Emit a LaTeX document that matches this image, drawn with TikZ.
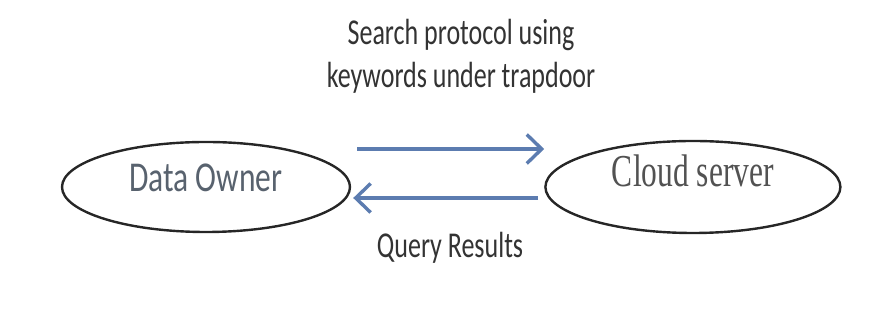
\documentclass[tikz,border=0pt]{standalone}
\usepackage{fontspec}
\setmainfont{Carlito}
\newfontfamily\serifface{Liberation Serif}
\usetikzlibrary{arrows.meta, shapes.geometric, positioning}
\newcommand{\tall}[2][1.4]{\scalebox{1}[#1]{#2}}

\begin{document}
\begin{tikzpicture}[x=1pt, y=1pt, thick,
    party node/.style={ellipse, draw=black!85, line width=2.4pt, inner sep=0pt},
    label text/.style={text=black!80, font=\fontsize{26}{30.7}\selectfont},
    flow/.style={draw={rgb,255:red,92;green,124;blue,176}, line width=3.4pt, -{Straight Barb[length=15pt,width=29pt]}}]
\useasboundingbox (0,0) rectangle (875,323);
\node[party node, minimum width=288pt, minimum height=90pt, text depth=18pt, text={rgb,255:red,88;green,98;blue,110}, font=\fontsize{31.5}{36}\selectfont] (owner) at (206,136) {\tall[1.35]{Data Owner}};
\node[party node, minimum width=295pt, minimum height=92pt, text depth=32pt, text=black!68, font=\serifface\fontsize{31.5}{36}\selectfont, right=193pt of owner] (cloud) {\tall[1.45]{Cloud server}};
\node[label text] (search) at (461,266) {\tall{\begin{tabular}{@{}c@{}}Search protocol using\\keywords under trapdoor\end{tabular}}};
\node[label text, anchor=base] (results) at (450,65) {\tall{Query Results}};
% request goes up top, answer comes back below
\draw[flow] ([xshift=6pt,yshift=38pt]owner.east) -- ([yshift=38pt]cloud.west);
\draw[flow] ([xshift=-6pt,yshift=-11pt]cloud.west) -- ([xshift=2pt,yshift=-11pt]owner.east);
\end{tikzpicture}
\end{document}
